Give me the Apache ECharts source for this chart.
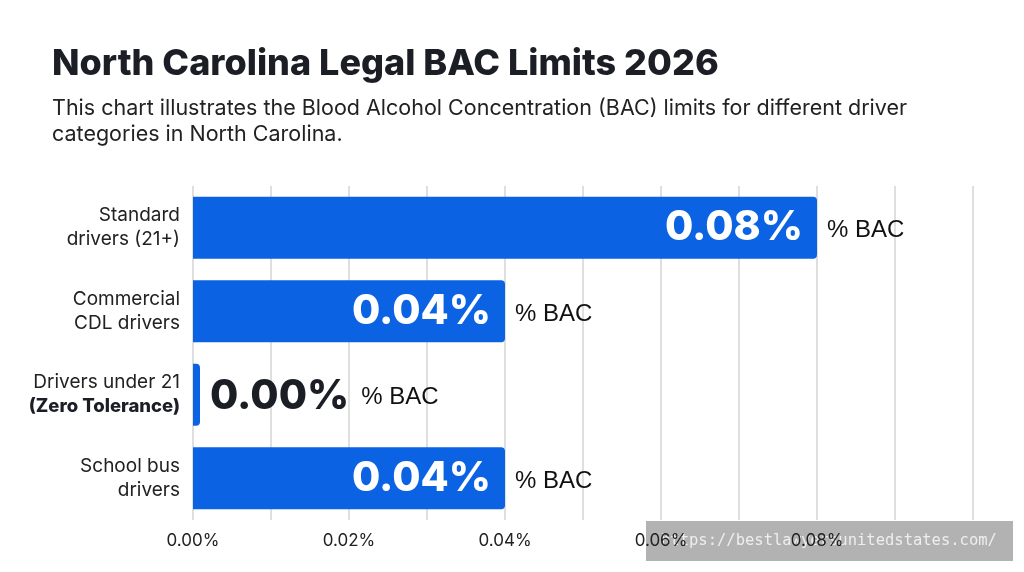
<!DOCTYPE html>
<html>
<head>
<meta charset="utf-8">
<script src="https://cdn.jsdelivr.net/npm/echarts@6/dist/echarts.min.js"></script>
<style>
  html, body { margin: 0; padding: 0; background: #ffffff; }
  #chart { width: 1024px; height: 572px; }
</style>
</head>
<body>
<div id="chart"></div>
<script>
// categories (top to bottom)
const categories = [
  'Standard\ndrivers (21+)',
  'Commercial\nCDL drivers',
  'Drivers under 21\n(Zero Tolerance)',
  'School bus\ndrivers'
];
// BAC limit, percent
const bacLimits = [0.08, 0.04, 0.00, 0.04];
const unitLabel = '% BAC';
const axisTicks = [0, 0.02, 0.04, 0.06, 0.08];

const FONT = 'Inter, "Noto Sans", sans-serif';
const BLUE = '#0b63e4';
const DARK = '#1b1e25';

const chart = echarts.init(document.getElementById('chart'));

const option = {
  backgroundColor: '#ffffff',
  animation: false,
  title: {
    text: 'North Carolina Legal BAC Limits 2026',
    subtext: 'This chart illustrates the Blood Alcohol Concentration (BAC) limits for different driver\ncategories in North Carolina.',
    left: 47,
    top: 41,
    itemGap: 14,
    textStyle: {
      fontFamily: FONT,
      fontSize: 36,
      fontWeight: 800,
      color: DARK
    },
    subtextStyle: {
      fontFamily: FONT,
      fontSize: 21.5,
      lineHeight: 26,
      color: '#222222'
    }
  },
  grid: {
    left: 193,
    right: 51,
    top: 186,
    bottom: 52
  },
  xAxis: {
    type: 'value',
    min: 0,
    max: 0.1,
    interval: 0.01,
    axisLine: { show: false },
    axisTick: { show: false },
    splitLine: { lineStyle: { color: '#d4d4d4', width: 1.5 } },
    axisLabel: {
      margin: 12,
      fontFamily: FONT,
      fontSize: 17,
      color: '#222222',
      formatter: function (v) {
        const hit = axisTicks.some(t => Math.abs(t - v) < 1e-9);
        return hit ? v.toFixed(2) + '%' : '';
      }
    }
  },
  yAxis: {
    type: 'category',
    data: categories,
    inverse: true,
    axisLine: { show: false },
    axisTick: { show: false },
    axisLabel: {
      margin: 13,
      fontFamily: FONT,
      fontSize: 19,
      lineHeight: 24,
      color: '#222222',
      formatter: function (v) {
        return v.split('\n').map(line =>
          line === '(Zero Tolerance)' ? '{b|' + line + '}' : line
        ).join('\n');
      },
      rich: {
        b: { fontFamily: FONT, fontSize: 18.5, fontWeight: 800, lineHeight: 24, color: DARK }
      }
    }
  },
  series: [
    {
      name: 'BAC',
      type: 'bar',
      data: bacLimits,
      barWidth: 62,
      barMinHeight: 7,
      itemStyle: { color: BLUE, borderRadius: [0, 4, 4, 0] },
      label: {
        show: true,
        position: 'insideRight',
        distance: 14,
        fontFamily: FONT,
        fontSize: 41,
        fontWeight: 800,
        color: '#ffffff',
        formatter: p => p.value === 0 ? '' : p.value.toFixed(2) + '%'
      },
      z: 2
    },
    {
      name: 'unit',
      type: 'bar',
      data: bacLimits,
      barWidth: 62,
      barGap: '-100%',
      barMinHeight: 7,
      silent: true,
      itemStyle: { color: 'rgba(0,0,0,0)' },
      label: {
        show: true,
        position: 'right',
        distance: 10,
        fontFamily: '"Liberation Sans", Arial, sans-serif',
        fontSize: 24,
        color: '#111111',
        formatter: p => p.value === 0
          ? '{z|' + p.value.toFixed(2) + '%}{s|}{u|' + unitLabel + '}'
          : '{u|' + unitLabel + '}',
        rich: {
          z: { fontFamily: FONT, fontSize: 41, fontWeight: 800, color: DARK, padding: [4, 0, 0, 0] },
          s: { width: 12 },
          u: { fontFamily: '"Liberation Sans", Arial, sans-serif', fontSize: 24, color: '#111111', padding: [6, 0, 0, 0] }
        }
      },
      z: 3
    }
  ],
  graphic: [
    {
      type: 'group',
      right: 11,
      bottom: 11,
      children: [
        {
          type: 'rect',
          shape: { x: 0, y: 0, width: 367, height: 40 },
          style: { fill: 'rgba(0,0,0,0.3)' }
        },
        {
          type: 'text',
          x: 15,
          y: 20,
          style: {
            text: 'https://bestlawyersunitedstates.com/',
            font: '15.5px "DejaVu Sans Mono", monospace',
            fill: '#eeeeee',
            verticalAlign: 'middle'
          }
        }
      ]
    }
  ]
};

chart.setOption(option);
window.addEventListener('resize', () => chart.resize());
</script>
</body>
</html>
